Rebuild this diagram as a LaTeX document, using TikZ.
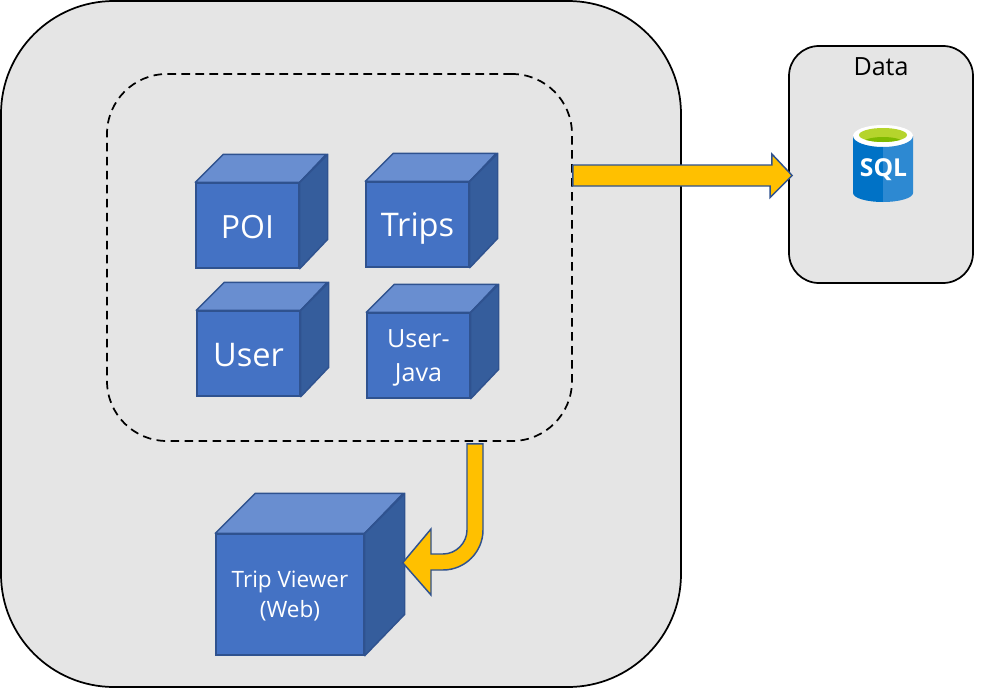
\documentclass[tikz,border=0pt]{standalone}
\usepackage{fontspec}
\setmainfont{Open Sans}
\newfontfamily\sqlfont{Open Sans}
\def\px{0.75pt}
\definecolor{panelgrey}{HTML}{E5E5E5}
\definecolor{cubefront}{HTML}{4472C4}
\definecolor{cubetop}{HTML}{698ED0}
\definecolor{cubeside}{HTML}{355D9C}
\definecolor{cubeline}{HTML}{2F528F}
\definecolor{arrowgold}{HTML}{FFC000}
\definecolor{sqldark}{RGB}{0,114,198}
\definecolor{sqllight}{RGB}{45,137,210}
\definecolor{sqlgreen}{RGB}{181,212,44}
\definecolor{sqldeep}{RGB}{127,186,0}
\tikzset{
  x=\px, y=-\px,
  panel/.style={draw=black, fill=panelgrey, line width=1.3pt, inner sep=0pt},
  dashpanel/.style={draw=black, line width=1.3pt, dash pattern=on 6.4pt off 4.1pt, inner sep=0pt},
  cubeface/.style={draw=cubeline, fill=cubefront, line width=1.1pt, inner sep=0pt},
  cubelabel/.style={inner sep=0pt, text=white, align=center},
  cubeedge/.style={draw=cubeline, line width=1.1pt, line join=round},
  blockarrow/.style={draw=cubeline, fill=arrowgold, line width=1.1pt, line join=miter},
}
% name, centre x, centre y, width, height, depth, font, text, text drop
\newcommand{\boxcube}[9]{%
  \node[cubeface, minimum width=#4*\px, minimum height=#5*\px] (#1) at (#2,#3) {};
  \draw[cubeedge, fill=cubetop] (#1.north west) -- ++(#6,-#6) -- ++(#4,0) -- (#1.north east) -- cycle;
  \draw[cubeedge, fill=cubeside] (#1.north east) -- ++(#6,-#6) -- ++(0,#5) -- (#1.south east) -- cycle;
  \node[cubelabel, font=#7] (#1text) at ([yshift=-#9*\px]#1.center) {#8};
}
\begin{document}
\begin{tikzpicture}
\useasboundingbox (0,0) rectangle (1001,689);
% panels
\node[panel, rounded corners=113*\px, minimum width=680*\px, minimum height=686*\px] (outer) at (341,344) {};
\node[dashpanel, rounded corners=60*\px, minimum width=465*\px, minimum height=367*\px] (inner) at (339.5,257.5) {};
\node[panel, rounded corners=30*\px, minimum width=184*\px, minimum height=237*\px] (datapanel) at (881,164.5) {};
\node[font=\fontsize{18.8}{22}\selectfont, text=black, inner sep=0pt] (datalabel) at (881,67) {Data};
% cubes
\boxcube{poi}{247.5}{225.5}{103}{85}{28}{\fontsize{24}{28}\selectfont}{POI}{2}
\boxcube{trips}{417.5}{224.5}{103}{85}{28}{\fontsize{24.4}{28}\selectfont}{Trips}{4}
\boxcube{user}{248.5}{353.5}{103}{85}{28}{\fontsize{24.4}{28}\selectfont}{User}{2}
\boxcube{userjava}{418.5}{355.5}{103}{85}{28}{\fontsize{18.8}{25.5}\selectfont}{User-\\Java}{2.5}
\boxcube{viewer}{290}{594.5}{148}{121}{40}{\fontsize{16.9}{22.5}\selectfont}{Trip Viewer\\(Web)}{2}
% block arrow to the data panel
\coordinate (arrowAstart) at ([yshift=82*\px]inner.east);
\coordinate (arrowAend) at ([xshift=4*\px, yshift=-11*\px]datapanel.west);
\draw[blockarrow] (arrowAstart) ++(0,-10.5) -- ++(199,0) -- ++(0,-11) -- (arrowAend) -- ([xshift=-22*\px, yshift=-22*\px]arrowAend) -- ++(0,-11.5) -- ([yshift=-10.5*\px]arrowAstart) -- cycle;
% curved block arrow to the web cube
\coordinate (arrowBstart) at ([xshift=135.5*\px, yshift=-2*\px]inner.south);
\coordinate (arrowBend) at ([xshift=38*\px, yshift=93*\px]viewer.south east);
\draw[blockarrow] (arrowBstart) ++(-8,0) -- ++(16,0) -- (483,530)
  .. controls (483,552) and (465,570) .. (443,570) -- (431,570) -- (431,595) -- (arrowBend)
  -- (431,529) -- (431,554) -- (443,554)
  .. controls (456,554) and (467,543) .. (467,530) -- cycle;
% SQL icon
\fill[fill=white] (883,136) ellipse[x radius=30, y radius=11];
\fill[fill=sqldark] (853,136) -- (853,193) arc[start angle=180, end angle=90, x radius=30, y radius=9] -- (883,147) arc[start angle=90, end angle=180, x radius=30, y radius=11] -- cycle;
\fill[fill=sqllight] (913,136) -- (913,193) arc[start angle=0, end angle=90, x radius=30, y radius=9] -- (883,147) arc[start angle=90, end angle=0, x radius=30, y radius=11] -- cycle;
\fill[fill=sqlgreen] (883,135) ellipse[x radius=24, y radius=7];
\begin{scope}
\clip (883,135) ellipse[x radius=24, y radius=7];
\fill[fill=sqldeep] (883,142.5) ellipse[x radius=20, y radius=5.5];
\end{scope}
\node[font=\sqlfont\bfseries\fontsize{18.5}{20}\selectfont, text=white, inner sep=0pt] (sqltext) at (883.5,170) {SQL};
\end{tikzpicture}
\end{document}
